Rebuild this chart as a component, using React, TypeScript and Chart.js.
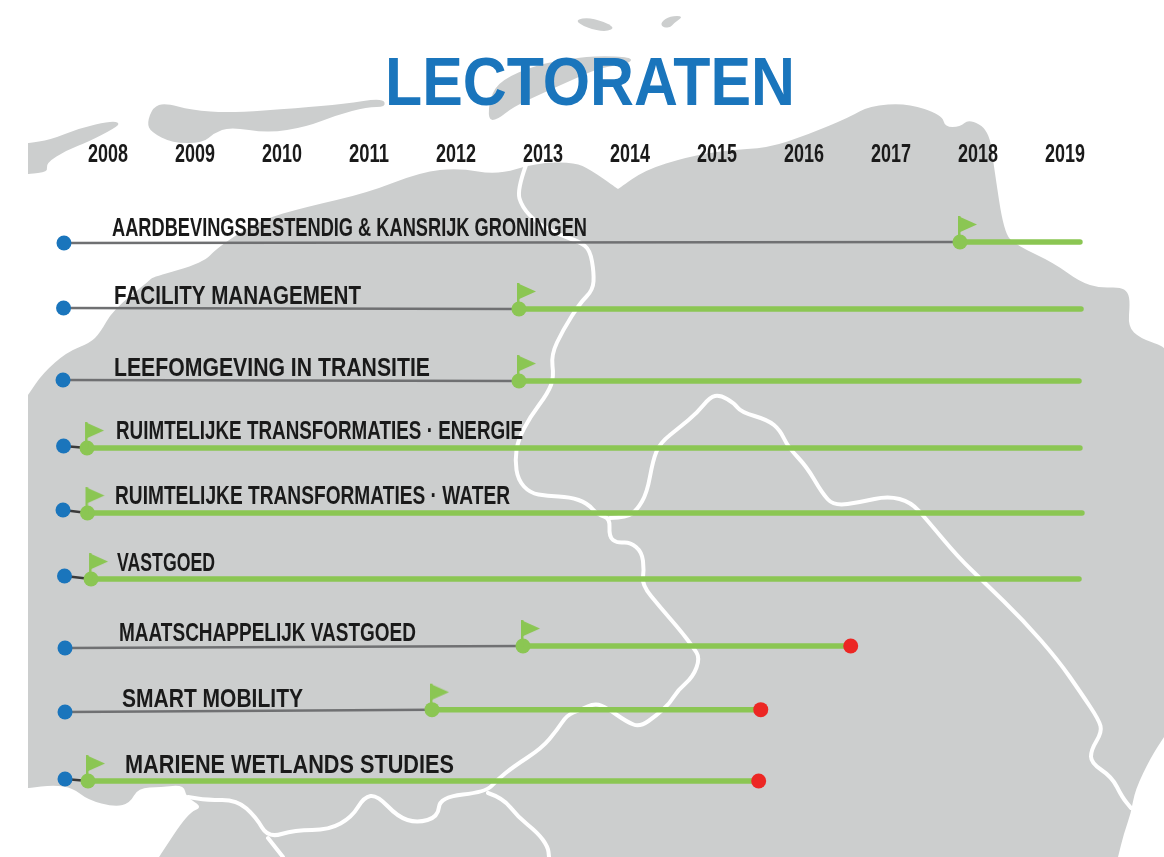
import React, { useEffect, useRef } from "react";
import { Chart, registerables } from "chart.js";

Chart.register(...registerables);

// ---- data ----
const years = [2008, 2009, 2010, 2011, 2012, 2013, 2014, 2015, 2016, 2017, 2018, 2019];
const chartTitle = "LECTORATEN";
const programmes = [
  "AARDBEVINGSBESTENDIG & KANSRIJK GRONINGEN",
  "FACILITY MANAGEMENT",
  "LEEFOMGEVING IN TRANSITIE",
  "RUIMTELIJKE TRANSFORMATIES · ENERGIE",
  "RUIMTELIJKE TRANSFORMATIES · WATER",
  "VASTGOED",
  "MAATSCHAPPELIJK VASTGOED",
  "SMART MOBILITY",
  "MARIENE WETLANDS STUDIES",
];
const announced = [2007.494, 2007.489, 2007.483, 2007.489, 2007.483, 2007.5, 2007.506, 2007.506, 2007.506];
const started = [2017.793, 2012.724, 2012.724, 2007.759, 2007.764, 2007.805, 2012.77, 2011.724, 2007.77];
const ended = [2019.172, 2019.184, 2019.161, 2019.172, 2019.195, 2019.161, 2016.537, 2015.503, 2015.479];
const closed = [false, false, false, false, false, false, true, true, true];
const rowAtAnnounced = [0.015, 0.985, 2.06, 3.045, 4.0, 4.985, 6.06, 7.015, 8.015];
const rowAtStart = [0, 1, 2.075, 3.075, 4.045, 5.03, 6.03, 6.98, 8.045];

// ---- layout and style ----
const labelLeft = [112, 114, 114, 116, 115, 117, 119, 122, 125];
const labelWidth = [475, 247, 316, 407, 395, 98, 297, 181, 329];
const labelLift = [13, 12.5, 12, 16, 16, 15, 12, 10, 15];
const HAND = '"Liberation Sans", sans-serif';
const GREEN = "#8BC653";
const BLUE = "#1A75BC";
const RED = "#EC2724";
const LAND = "#CCCECE";
const INK = "#1A1A1A";

// ---- decorative background map, in page pixels ----
type P = number[];
const land: P[][] = [
  [[28,143],[28,143],[50,140],[80,128],[111,121],[120,123],[115,128],[88,142],[67,150],[46,163],[48,172],[28,174],[28,174]],
  [[147,123],[153,107],[165,103],[191,110],[230,113],[298,108],[344,104],[383,98],[386,107],[367,107],[337,115],[306,127],[268,133],[230,127],[214,133],[203,143],[172,143],[151,132]],
  [[488,120],[490,97],[501,80],[536,65],[574,58],[599,56],[631,57],[631,63],[599,68],[572,80],[543,93],[513,107],[497,120]],
  [[574,20],[591,17],[616,27],[606,32],[587,28]],
  [[661,22],[670,16],[684,16],[674,23],[670,28],[662,27]],
  [[28,395],[28,395],[43,373],[67,352],[90,343],[100,333],[113,310],[150,280],[153,277],[203,263],[218,247],[260,220],[306,207],[367,193],[421,172],[459,168],[497,175],[536,163],[574,162],[591,170],[618,189],[618,189],[645,170],[687,157],[726,150],[768,148],[807,135],[850,117],[869,106],[907,103],[942,115],[945,127],[960,127],[969,119],[989,130],[994,167],[1004,233],[1016,245],[1054,263],[1080,282],[1100,288],[1120,287],[1128,292],[1130,303],[1128,327],[1140,338],[1160,345],[1164,348],[1164,348],[1164,737],[1164,737],[1151,757],[1135,790],[1131,813],[1124,833],[1118,857],[1118,857],[159,857],[159,857],[188,813],[203,807],[186,797],[184,785],[161,787],[138,788],[130,803],[115,807],[88,800],[73,788],[54,785],[28,788],[28,788]],
];
const borders: P[][] = [
  [[526,165],[517,190],[522,207],[537,223],[560,235],[580,242],[590,250],[594,273],[593,290],[580,303],[563,330],[551,355],[554,377],[548,393],[530,417],[518,440],[515,460],[518,480],[530,493],[547,496],[570,497],[587,503],[598,515],[610,518],[609,537],[617,543],[630,542],[642,552],[644,570],[642,585],[660,607],[680,630],[693,647],[700,658],[693,677],[678,690],[670,703],[657,715],[640,727],[627,722],[607,708],[595,703],[580,710],[567,715],[557,730],[542,748],[513,767],[497,780],[486,792],[440,797],[438,817],[417,823],[398,817],[377,795],[364,797],[352,817],[329,830],[295,830],[268,838],[256,817],[237,800],[207,800],[188,797]],
  [[610,518],[627,517],[637,510],[647,493],[653,460],[660,443],[680,427],[697,413],[710,397],[720,395],[734,403],[741,412],[768,420],[780,430],[788,447],[807,467],[822,493],[834,506],[861,502],[888,496],[911,502],[927,520],[958,557],[985,583],[1023,620],[1058,660],[1081,693],[1099,720],[1102,732],[1091,750],[1091,763],[1112,777],[1122,797],[1131,808]],
  [[488,793],[503,798],[518,817],[538,833],[548,847],[549,857]],
  [[268,838],[283,857]],
];

function trace(ctx: CanvasRenderingContext2D, pts: P[], closedPath: boolean) {
  ctx.beginPath();
  if (closedPath) {
    const last = pts[pts.length - 1];
    ctx.moveTo((last[0] + pts[0][0]) / 2, (last[1] + pts[0][1]) / 2);
    pts.forEach((p, i) => {
      const n = pts[(i + 1) % pts.length];
      ctx.quadraticCurveTo(p[0], p[1], (p[0] + n[0]) / 2, (p[1] + n[1]) / 2);
    });
    ctx.closePath();
  } else {
    ctx.moveTo(pts[0][0], pts[0][1]);
    for (let i = 1; i < pts.length - 1; i++) {
      const n = pts[i + 1];
      ctx.quadraticCurveTo(pts[i][0], pts[i][1], (pts[i][0] + n[0]) / 2, (pts[i][1] + n[1]) / 2);
    }
    const e = pts[pts.length - 1];
    ctx.lineTo(e[0], e[1]);
  }
}

function fitText(ctx: CanvasRenderingContext2D, text: string, x: number, y: number, width: number) {
  const sx = width / ctx.measureText(text).width;
  ctx.save();
  ctx.translate(x, y);
  ctx.scale(sx, 1);
  ctx.fillText(text, 0, 0);
  ctx.restore();
}

const mapPlugin = {
  id: "map",
  beforeDraw(chart: any) {
    const ctx = chart.ctx;
    ctx.save();
    ctx.fillStyle = "#FFFFFF";
    ctx.fillRect(0, 0, chart.width, chart.height);
    ctx.fillStyle = LAND;
    land.forEach((poly) => {
      trace(ctx, poly, true);
      ctx.fill();
    });
    ctx.strokeStyle = "#FFFFFF";
    ctx.lineWidth = 4;
    ctx.lineJoin = "round";
    ctx.lineCap = "round";
    borders.forEach((line) => {
      trace(ctx, line, false);
      ctx.stroke();
    });
    ctx.restore();
  },
};

const labelPlugin = {
  id: "texts",
  afterDraw(chart: any) {
    const ctx = chart.ctx;
    const yScale = chart.scales.y;
    const xScale = chart.scales.x;
    ctx.save();
    ctx.textBaseline = "middle";
    ctx.textAlign = "left";

    ctx.fillStyle = BLUE;
    ctx.font = `bold 68px ${HAND}`;
    fitText(ctx, chartTitle, 385, 86, 410);

    ctx.fillStyle = INK;
    ctx.font = `bold 25px ${HAND}`;
    xScale.ticks.forEach((t: any) => {
      fitText(ctx, String(t.value), xScale.getPixelForValue(t.value) - 20, xScale.bottom - 15, 40);
    });

    ctx.font = `bold 26px ${HAND}`;
    programmes.forEach((text, i) => {
      fitText(ctx, text, labelLeft[i], yScale.getPixelForValue(rowAtStart[i]) - labelLift[i], labelWidth[i]);
    });
    ctx.restore();
  },
};

function makeFlag(): HTMLCanvasElement {
  const c = document.createElement("canvas");
  c.width = 60;
  c.height = 60;
  const g = c.getContext("2d")!;
  g.fillStyle = GREEN;
  g.fillRect(28, 4, 2.5, 26);
  g.beginPath();
  g.moveTo(28, 4);
  g.lineTo(47, 12.5);
  g.lineTo(28, 21);
  g.closePath();
  g.fill();
  return c;
}

export default function App() {
  const ref = useRef<HTMLCanvasElement>(null);

  useEffect(() => {
    document.body.style.margin = "0";
    const leads = programmes.map((name, i) => ({
      label: name + " (aanloop)",
      data: [
        { x: announced[i], y: rowAtAnnounced[i] },
        { x: started[i], y: rowAtStart[i] },
      ],
      borderColor: started[i] < 2008 ? "#3A3A3A" : "#6F7072",
      borderWidth: 2.5,
      tension: 0,
      pointRadius: [7.5, 0],
      pointBackgroundColor: BLUE,
      pointBorderWidth: 0,
      clip: false,
    }));
    const runs = programmes.map((name, i) => ({
      label: name,
      data: [
        { x: started[i], y: rowAtStart[i] },
        { x: ended[i], y: rowAtStart[i] },
      ],
      borderColor: GREEN,
      borderWidth: 5.5,
      borderCapStyle: "round",
      tension: 0,
      pointRadius: [7.5, closed[i] ? 7.5 : 0],
      pointBackgroundColor: [GREEN, RED],
      pointBorderWidth: 0,
      clip: false,
    }));
    const flags = {
      label: "start",
      data: programmes.map((_, i) => ({ x: started[i], y: rowAtStart[i] })),
      showLine: false,
      pointStyle: makeFlag(),
      pointRadius: 30,
      clip: false,
    };
    const chart = new Chart(ref.current!, {
      type: "line",
      // Chart.js paints the first dataset last, so the lead-in lines stay underneath.
      data: { datasets: [flags, ...runs, ...leads] as any },
      plugins: [mapPlugin, labelPlugin],
      options: {
        animation: false,
        responsive: false,
        layout: { autoPadding: false, padding: { left: 16, top: 122 } },
        plugins: {
          legend: { display: false },
          tooltip: { enabled: false },
        },
        scales: {
          x: {
            type: "linear",
            position: "top",
            min: 2006.9425,
            max: 2020.138,
            grid: { display: false },
            border: { display: false },
            afterBuildTicks: (s: any) => {
              s.ticks = years.map((value) => ({ value }));
            },
            afterFit: (s: any) => {
              s.height = 48;
            },
            ticks: { display: false },
          },
          y: {
            type: "linear",
            display: false,
            reverse: true,
            min: -1.0746,
            max: 9.179,
          },
        },
      } as any,
    });
    return () => chart.destroy();
  }, []);

  return (
    <div style={{ position: "absolute", left: 0, top: 0, width: 1164, height: 857 }}>
      <canvas ref={ref} width={1164} height={857} style={{ display: "block" }} />
    </div>
  );
}
